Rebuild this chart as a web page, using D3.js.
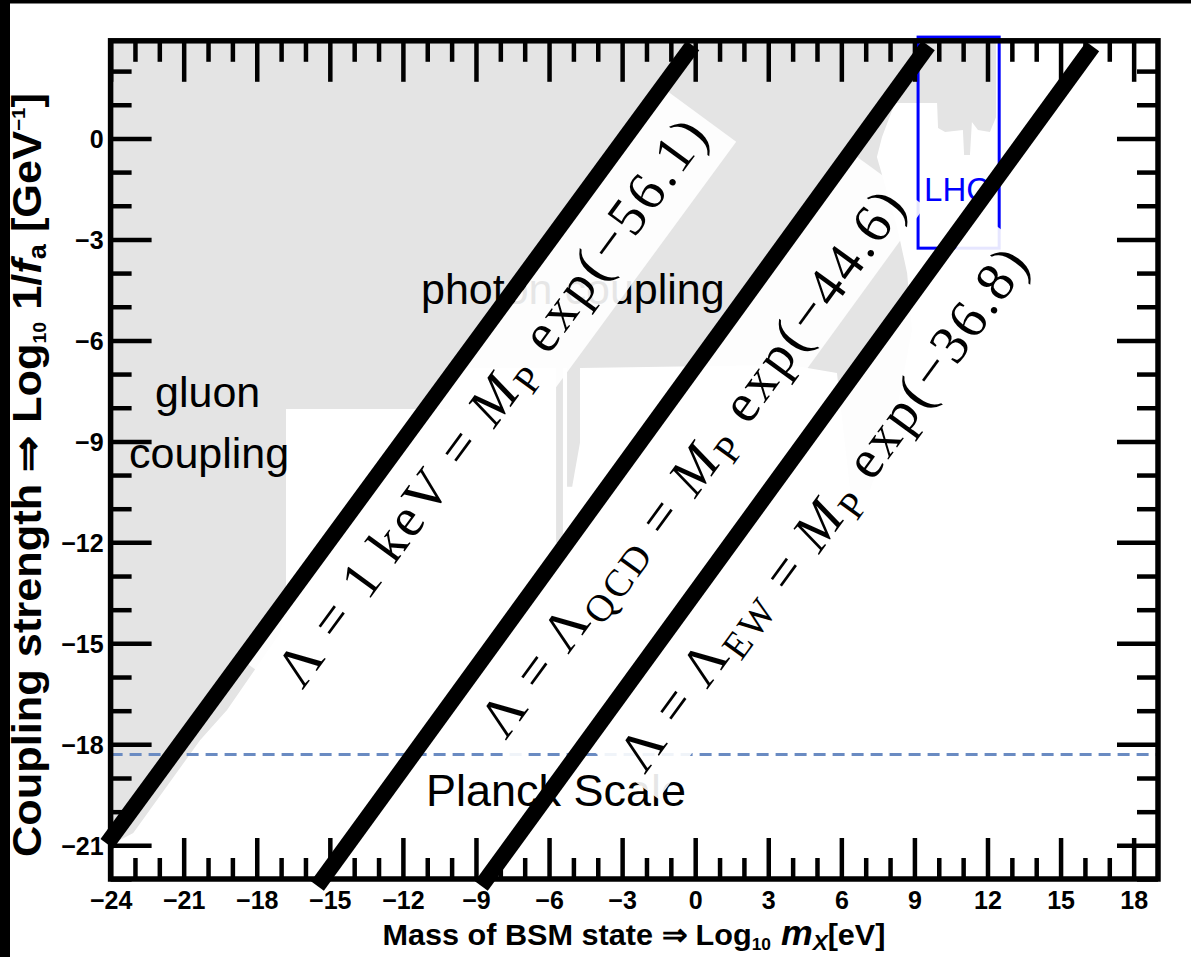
<!DOCTYPE html>
<html>
<head>
<meta charset="utf-8">
<script src="https://cdn.jsdelivr.net/npm/d3@7"></script>
<style>
  html, body { margin: 0; padding: 0; background: #ffffff; }
  svg { display: block; }
</style>
</head>
<body>
<svg id="chart" width="1191" height="957"></svg>
<script>
// ---- axis ranges and ticks (log10 of mass in eV, log10 of coupling in 1/GeV) ----
const xDomain = [-24, 19];
const yDomain = [-22, 2.9];
const xMajorTicks = [-24, -21, -18, -15, -12, -9, -6, -3, 0, 3, 6, 9, 12, 15, 18];
const yMajorTicks = [0, -3, -6, -9, -12, -15, -18, -21];
const xMinorTicks = d3.range(-23, 19, 1).filter(v => v % 3 !== 0);
const yMinorTicks = d3.range(-22, 3, 1).filter(v => v % 3 !== 0);

// ---- Lambda = M_P exp(-k) lines: scale name, exponent, end points ----
const lambdaNames = ["1keV", "QCD", "EW"];
const lambdaExponents = [-56.1, -44.6, -36.8];
const lambdaStart = [[-24.15, -20.95], [-15.51, -22.21], [-8.78, -22.21]];
const lambdaEnd = [[-0.10, 2.76], [9.57, 2.76], [16.32, 2.73]];

// ---- Planck scale coupling ----
const planckCoupling = -18.3;

// ---- LHC search window ----
const lhcMass = [9.15, 12.48];
const lhcCoupling = [-3.26, 3.01];

// ---- excluded region (gluon + photon couplings) outline ----
const excludedRegion = [
  [-24.6, 3.3], [12.35, 3.3], [12.35, 0.63], [12.10, 0.19], [11.61, 0.25], [11.36, 0.49],
  [11.28, -0.49], [11.04, -0.49], [10.99, 0.25], [10.26, 0.19], [9.97, 0.31], [9.93, 1.05],
  [8.20, 1.05], [7.67, 0.04], [7.46, -0.55], [8.29, -2.63], [8.70, -4.00], [8.90, -5.69],
  [8.20, -8.36], [7.18, -10.44], [6.36, -10.44], [5.82, -6.97], [3.89, -6.73],
  [-4.73, -6.82], [-4.73, -9.04], [-4.93, -9.85], [-5.05, -10.35], [-5.26, -10.35],
  [-5.26, -6.82], [-5.43, -6.82], [-5.43, -12.02], [-5.71, -12.02], [-5.71, -6.82],
  [-10.07, -6.82], [-10.07, -8.04], [-16.80, -8.04], [-16.80, -13.80], [-17.04, -14.69],
  [-19.22, -16.98], [-20.32, -17.87], [-23.07, -20.63], [-23.61, -20.84], [-24.6, -20.84]
];

const svg = d3.select("#chart");
const W = 1191, H = 957;
const x = d3.scaleLinear().domain(xDomain).range([110.6, 1158]);
const y = d3.scaleLinear().domain(yDomain).range([879, 40.8]);
const sans = "'Liberation Sans', Arial, Helvetica, sans-serif";
const serif = "'Liberation Serif', 'Times New Roman', serif";

svg.append("rect").attr("width", W).attr("height", H).attr("fill", "#ffffff");

// clip for the plotting area
svg.append("defs").append("clipPath").attr("id", "plotArea")
  .append("rect")
  .attr("x", x(xDomain[0])).attr("y", y(yDomain[1]))
  .attr("width", x(xDomain[1]) - x(xDomain[0]))
  .attr("height", y(yDomain[0]) - y(yDomain[1]));

// excluded region
const area = d3.line().x(d => x(d[0])).y(d => y(d[1]));
svg.append("path")
  .attr("clip-path", "url(#plotArea)")
  .attr("d", area(excludedRegion) + "Z")
  .attr("fill", "#e4e4e4");

// region labels
const annot = svg.append("g").attr("font-family", sans).attr("fill", "#000");
annot.append("text").attr("x", 155).attr("y", 407).attr("font-size", 43).text("gluon");
annot.append("text").attr("x", 129).attr("y", 468).attr("font-size", 43).text("coupling");
annot.append("text").attr("x", 421).attr("y", 304).attr("font-size", 43).text("photon coupling");
annot.append("text").attr("x", 426).attr("y", 806).attr("font-size", 45).text("Planck Scale");

// Planck scale line
svg.append("line")
  .attr("x1", x(xDomain[0])).attr("x2", x(xDomain[1]))
  .attr("y1", y(planckCoupling)).attr("y2", y(planckCoupling))
  .attr("stroke", "#6a8bc2").attr("stroke-width", 3)
  .attr("stroke-dasharray", "12,7");

// LHC window
svg.append("rect")
  .attr("x", x(lhcMass[0])).attr("y", y(lhcCoupling[1]))
  .attr("width", x(lhcMass[1]) - x(lhcMass[0]))
  .attr("height", y(lhcCoupling[0]) - y(lhcCoupling[1]))
  .attr("fill", "none").attr("stroke", "#0000ff").attr("stroke-width", 3);
svg.append("text")
  .attr("x", x(lhcMass[0]) + 6).attr("y", 201)
  .attr("font-family", sans).attr("font-size", 33).attr("fill", "#0000ff")
  .text("LHC");

// ---- axes: ticks point inwards on all four sides ----
const MAJ = 41, MIN = 21;
const fmt = d => d < 0 ? "\u2212" + Math.abs(d) : String(d);
function styleAxis(g) {
  g.select(".domain").remove();
  g.selectAll(".tick line").attr("stroke", "#000").attr("stroke-width", 4.5);
}
const yBottom = y(yDomain[0]), yTop = y(yDomain[1]);
const xLeft = x(xDomain[0]), xRight = x(xDomain[1]);

const gxB = svg.append("g").attr("transform", `translate(0,${yBottom})`)
  .call(d3.axisBottom(x).tickValues(xMajorTicks).tickSize(-MAJ).tickFormat(fmt));
styleAxis(gxB);
gxB.selectAll(".tick text")
  .attr("y", 30).attr("dy", null)
  .attr("font-family", sans).attr("font-weight", "bold").attr("font-size", 25).attr("fill", "#000");
svg.append("g").attr("transform", `translate(0,${yBottom})`)
  .call(d3.axisBottom(x).tickValues(xMinorTicks).tickSize(-MIN).tickFormat(""))
  .call(styleAxis);

svg.append("g").attr("transform", `translate(0,${yTop})`)
  .call(d3.axisTop(x).tickValues(xMajorTicks).tickSize(-MAJ).tickFormat(""))
  .call(styleAxis);
svg.append("g").attr("transform", `translate(0,${yTop})`)
  .call(d3.axisTop(x).tickValues(xMinorTicks).tickSize(-MIN).tickFormat(""))
  .call(styleAxis);

const gyL = svg.append("g").attr("transform", `translate(${xLeft},0)`)
  .call(d3.axisLeft(y).tickValues(yMajorTicks).tickSize(-MAJ).tickFormat(fmt));
styleAxis(gyL);
gyL.selectAll(".tick text")
  .attr("x", -7).attr("dy", "0.36em")
  .attr("font-family", sans).attr("font-weight", "bold").attr("font-size", 25).attr("fill", "#000");
svg.append("g").attr("transform", `translate(${xLeft},0)`)
  .call(d3.axisLeft(y).tickValues(yMinorTicks).tickSize(-MIN).tickFormat(""))
  .call(styleAxis);

svg.append("g").attr("transform", `translate(${xRight},0)`)
  .call(d3.axisRight(y).tickValues(yMajorTicks).tickSize(-MAJ).tickFormat(""))
  .call(styleAxis);
svg.append("g").attr("transform", `translate(${xRight},0)`)
  .call(d3.axisRight(y).tickValues(yMinorTicks).tickSize(-MIN).tickFormat(""))
  .call(styleAxis);

// frame
svg.append("rect")
  .attr("x", xLeft).attr("y", yTop)
  .attr("width", xRight - xLeft).attr("height", yBottom - yTop)
  .attr("fill", "none").attr("stroke", "#000").attr("stroke-width", 5.5);

// ---- Lambda lines with their labels ----
const LABEL_FS = 55;
const labelSpan = [688, 668, 640];
const labelAt = [0.589, 0.541, 0.487];
lambdaNames.forEach((name, i) => {
  const p0 = [x(lambdaStart[i][0]), y(lambdaStart[i][1])];
  const p1 = [x(lambdaEnd[i][0]), y(lambdaEnd[i][1])];
  const len = Math.hypot(p1[0] - p0[0], p1[1] - p0[1]);
  const d = [(p1[0] - p0[0]) / len, (p1[1] - p0[1]) / len];
  const ang = Math.atan2(d[1], d[0]) * 180 / Math.PI;
  const t = labelAt[i];
  const foot = [p0[0] + d[0] * len * t, p0[1] + d[1] * len * t];

  const g = svg.append("g").attr("transform", `translate(${foot[0]},${foot[1]}) rotate(${ang})`);
  const band = g.append("rect").attr("fill", "#ffffff").attr("fill-opacity", 0.9);
  const txt = g.append("text")
    .attr("x", 0).attr("y", 67)
    .attr("text-anchor", "middle")
    .attr("textLength", labelSpan[i]).attr("lengthAdjust", "spacing")
    .attr("font-family", serif).attr("font-size", LABEL_FS).attr("fill", "#000");
  const sub = LABEL_FS * 0.7, shift = LABEL_FS * 0.2;
  txt.append("tspan").text("\u039B = ");
  if (name === "1keV") {
    txt.append("tspan").text("1\u2009keV");
  } else {
    txt.append("tspan").text("\u039B");
    txt.append("tspan").attr("font-size", sub).attr("dy", shift).text(name);
    txt.append("tspan").attr("dy", -shift).text("");
  }
  txt.append("tspan").text(" = ");
  txt.append("tspan").attr("font-style", "italic").text("M");
  txt.append("tspan").attr("font-size", sub).attr("dy", shift).text("P");
  txt.append("tspan").attr("dy", -shift).text(" exp(\u2212" + Math.abs(lambdaExponents[i]).toFixed(1) + ")");
  band.attr("x", -labelSpan[i] / 2 - 11).attr("width", labelSpan[i] + 22)
      .attr("y", 8).attr("height", 84);

  svg.append("line")
    .attr("x1", p0[0]).attr("y1", p0[1]).attr("x2", p1[0]).attr("y2", p1[1])
    .attr("stroke", "#000").attr("stroke-width", 16);
});

// ---- axis titles ----
const xt = svg.append("text")
  .attr("x", 634).attr("y", 945).attr("text-anchor", "middle")
  .attr("textLength", 503).attr("lengthAdjust", "spacingAndGlyphs")
  .attr("font-family", sans).attr("font-weight", "bold").attr("font-size", 30).attr("fill", "#000");
xt.append("tspan").text("Mass of BSM state \u21D2 Log");
xt.append("tspan").attr("font-size", 17).attr("dy", 5).text("10");
xt.append("tspan").attr("font-size", 35).attr("font-style", "italic").attr("dy", -5).text(" m");
xt.append("tspan").attr("font-size", 22).attr("font-style", "italic").attr("dy", 5).text("X");
xt.append("tspan").attr("dy", -5).text("[eV]");

const yt = svg.append("text")
  .attr("transform", "translate(41,475) rotate(-90)")
  .attr("text-anchor", "middle")
  .attr("textLength", 764).attr("lengthAdjust", "spacingAndGlyphs")
  .attr("font-family", sans).attr("font-weight", "bold").attr("font-size", 40).attr("fill", "#000");
yt.append("tspan").text("Coupling strength \u21D2 Log");
yt.append("tspan").attr("font-size", 18).attr("dy", 5).text("10");
yt.append("tspan").attr("dy", -5).text(" 1/");
yt.append("tspan").attr("font-style", "italic").text("f");
yt.append("tspan").attr("font-size", 25).attr("dy", 5).text("a");
yt.append("tspan").attr("dy", -5).text(" [GeV");
yt.append("tspan").attr("font-size", 19).attr("dy", -16).text("\u22121");
yt.append("tspan").attr("dy", 16).text("]");

// dark edges along the top and left of the canvas
svg.append("rect").attr("x", 0).attr("y", 0).attr("width", W).attr("height", 3.5).attr("fill", "#000");
svg.append("rect").attr("x", 0).attr("y", 0).attr("width", 10).attr("height", H).attr("fill", "#000");
</script>
</body>
</html>
